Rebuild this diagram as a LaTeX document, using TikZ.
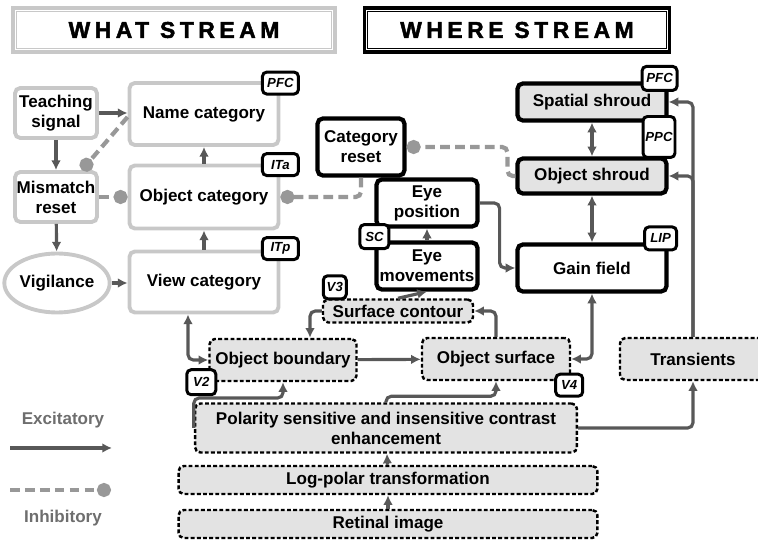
\documentclass[tikz,border=0pt]{standalone}
\usepackage{fontspec}
\setmainfont{Liberation Sans}
\usetikzlibrary{arrows.meta,calc,shapes.geometric}
\definecolor{gray1}{RGB}{200,200,200}
\definecolor{gray2}{RGB}{227,227,227}
\definecolor{gray3}{RGB}{88,88,88}
\definecolor{gray4}{RGB}{152,152,152}
\definecolor{gray5}{RGB}{110,110,110}

\tikzset{
  whatbox/.style={draw=gray1, line width=2.2pt, fill=white, rounded corners=3pt, align=center, inner sep=0pt},
  wherebox/.style={draw=black, line width=2.4pt, fill=white, rounded corners=3pt, align=center, inner sep=0pt},
  shroud/.style={wherebox, fill=gray2},
  earlybox/.style={draw=black, line width=1.4pt, dash pattern=on 2.2pt off 1.3pt, fill=gray2, rounded corners=3pt, align=center, inner sep=0pt},
  area/.style={draw=black, line width=1.7pt, fill=white, rounded corners=2.5pt, inner sep=0pt, font=\fontsize{7.5}{8}\selectfont\bfseries\itshape},
  exc/.style={draw=gray3, line width=1.8pt, rounded corners=3pt},
  inh/.style={draw=gray4, line width=2.4pt, dash pattern=on 5.5pt off 3pt, rounded corners=3pt, -{Circle[length=8pt]}},
  banner/.style={line width=2pt, inner sep=0pt, minimum height=0.88cm, font=\fontsize{13}{15}\selectfont\bfseries\addfontfeature{LetterSpace=20,FakeBold=2}}
}

\begin{document}
\begin{tikzpicture}[x=0.02cm, y=-0.02cm, >={Latex[length=5.5pt,width=5.5pt]}, font=\fontsize{9.7}{11.3}\selectfont\bfseries]
    \useasboundingbox (0,0) rectangle (758,540);

    % banners
    \node[banner, draw=gray1, minimum width=6.44cm] (what) at (174,30) {WHAT STREAM};
    \draw[gray1, line width=0.8pt] ($(what.north west)+(5,5)$) rectangle ($(what.south east)+(-5,-5)$);
    \node[banner, draw=black, minimum width=6.1cm] (where) at (517,30) {WHERE STREAM};
    \draw[black, line width=0.8pt] ($(where.north west)+(5,5)$) rectangle ($(where.south east)+(-5,-5)$);

    % what stream
    \node[whatbox, minimum width=1.64cm, minimum height=1cm] (teach) at (56,113) {Teaching\\signal};
    \node[whatbox, minimum width=1.64cm, minimum height=1cm] (mismatch) at (56,197) {Mismatch\\reset};
    \node[whatbox, ellipse, minimum width=1.7cm, minimum height=1.18cm] (vigil) at (57,283) {Vigilance};
    \node[whatbox, minimum width=2.98cm, minimum height=1.24cm] (name) at (204,114) {Name category};
    \node[whatbox, minimum width=2.98cm, minimum height=1.26cm] (objcat) at (204,197) {Object category};
    \node[whatbox, minimum width=2.98cm, minimum height=1.22cm] (view) at (204,282) {View category};

    % where stream
    \node[wherebox, minimum width=1.74cm, minimum height=1.14cm] (catreset) at (361,147) {Category\\reset};
    \node[wherebox, minimum width=2.02cm, minimum height=0.94cm] (eyepos) at (427,203) {Eye\\position};
    \node[wherebox, minimum width=2.02cm, minimum height=0.94cm] (eyemov) at (427,266) {Eye\\movements};
    \node[shroud, minimum width=2.98cm, minimum height=0.74cm] (spatial) at (592,102) {Spatial shroud};
    \node[shroud, minimum width=2.98cm, minimum height=0.7cm] (objshroud) at (592,176) {Object shroud};
    \node[wherebox, minimum width=2.98cm, minimum height=0.94cm] (gain) at (592,268) {Gain field};

    % early stages
    \node[earlybox, minimum width=3cm, minimum height=0.46cm] (surfcont) at (398,311) {Surface contour};
    \node[earlybox, minimum width=2.94cm, minimum height=0.84cm] (objbound) at (283,360) {Object boundary};
    \node[earlybox, minimum width=2.96cm, minimum height=0.84cm] (objsurf) at (496,359) {Object surface};
    \node[earlybox, minimum width=2.92cm, minimum height=0.84cm] (transients) at (693,359) {Transients};
    \node[earlybox, minimum width=7.64cm, minimum height=0.98cm] (polarity) at (386,428) {Polarity sensitive and insensitive contrast\\enhancement};
    \node[earlybox, minimum width=8.38cm, minimum height=0.56cm] (logpolar) at (388,480) {Log-polar transformation};
    \node[earlybox, minimum width=8.38cm, minimum height=0.56cm] (retinal) at (388,524) {Retinal image};

    % excitatory connections
    \draw[exc, ->] (teach) -- (teach -| name.west);
    \draw[exc, ->] (teach) -- (mismatch);
    \draw[exc, ->] (mismatch) -- (vigil);
    \draw[exc, ->] (vigil) -- (vigil -| view.west);
    \draw[exc, ->] (view) -- (objcat);
    \draw[exc, ->] (objcat) -- (name);
    \draw[exc, ->] (eyemov) -- (eyepos);
    \draw[exc, ->] (eyepos.east) -- ++(20,0) |- (gain.west);
    \draw[exc, <->] (spatial) -- (objshroud);
    \draw[exc, <->] (objshroud) -- (gain);
    \draw[exc, ->] (transients.north) |- (spatial.east);
    \draw[exc, ->] (transients.north) |- (objshroud.east);
    \draw[exc, ->] (surfcont.north) -- (eyemov.south);
    \draw[exc, ->] (objsurf.north) |- (surfcont.east);
    \draw[exc, ->] (surfcont.west) -| ($(objbound.north)+(27,0)$);
    \draw[exc, <->] ($(view.south)+(-16,0)$) |- (objbound.west);
    \draw[exc, ->] (objbound) -- (objsurf);
    \draw[exc, <->] (gain.south) |- (objsurf.east);
    \draw[exc, ->] (polarity.west) -- ++(0,-30) -| (objbound.south);
    \draw[exc, ->] (polarity.north) -- ++(0,-6) -| (objsurf.south);
    \draw[exc, ->] (polarity.east) -| (transients.south);
    \draw[exc, ->] (retinal) -- (logpolar);
    \draw[exc, ->] (logpolar) -- (polarity);

    % inhibitory connections
    \draw[inh] ($(name.west)+(0,3)$) -- ($(mismatch.north east)+(-17,0)$);
    \draw[inh] (mismatch) -- (mismatch -| objcat.west);
    \draw[inh] (catreset.south) |- (objcat.east);
    \draw[inh] (objshroud.west) -- ++(-8,0) |- (catreset.east);

    % brain areas
    \node[area, minimum width=0.72cm, minimum height=0.44cm] (pfc1) at ($(name.north east)+(0,2)$) {PFC};
    \node[area, minimum width=0.72cm, minimum height=0.44cm] (ita) at ($(objcat.north east)+(0,1)$) {ITa};
    \node[area, minimum width=0.72cm, minimum height=0.44cm] (itp) at ($(view.north east)+(0,-1)$) {ITp};
    \node[area, minimum width=0.58cm, minimum height=0.48cm] (sc) at ($(eyepos.south west)+(0,8)$) {SC};
    \node[area, minimum width=0.7cm, minimum height=0.48cm] (pfc2) at ($(spatial.north east)+(-9,-3)$) {PFC};
    \node[area, minimum width=0.64cm, minimum height=0.82cm] (ppc) at (659,137) {PPC};
    \node[area, minimum width=0.64cm, minimum height=0.46cm] (lip) at ($(gain.north east)+(-8,-4)$) {LIP};
    \node[area, minimum width=0.46cm, minimum height=0.46cm] (vthree) at ($(surfcont.north west)+(13,-11)$) {V3};
    \node[area, minimum width=0.58cm, minimum height=0.5cm] (vtwo) at ($(objbound.south west)+(-7,0)$) {V2};
    \node[area, minimum width=0.54cm, minimum height=0.44cm] (vfour) at ($(objsurf.south east)+(-2,4)$) {V4};

    % legend
    \node[text=gray5] (exclabel) at (63,420) {Excitatory};
    \coordinate (excA) at (10,448);
    \coordinate (excB) at (112,448);
    \draw[exc, ->] (excA) -- (excB);
    \coordinate (inhA) at (10,490);
    \coordinate (inhB) at (111,490);
    \draw[inh] (inhA) -- (inhB);
    \node[text=gray5] (inhlabel) at (63,518) {Inhibitory};

  \end{tikzpicture}
\end{document}
